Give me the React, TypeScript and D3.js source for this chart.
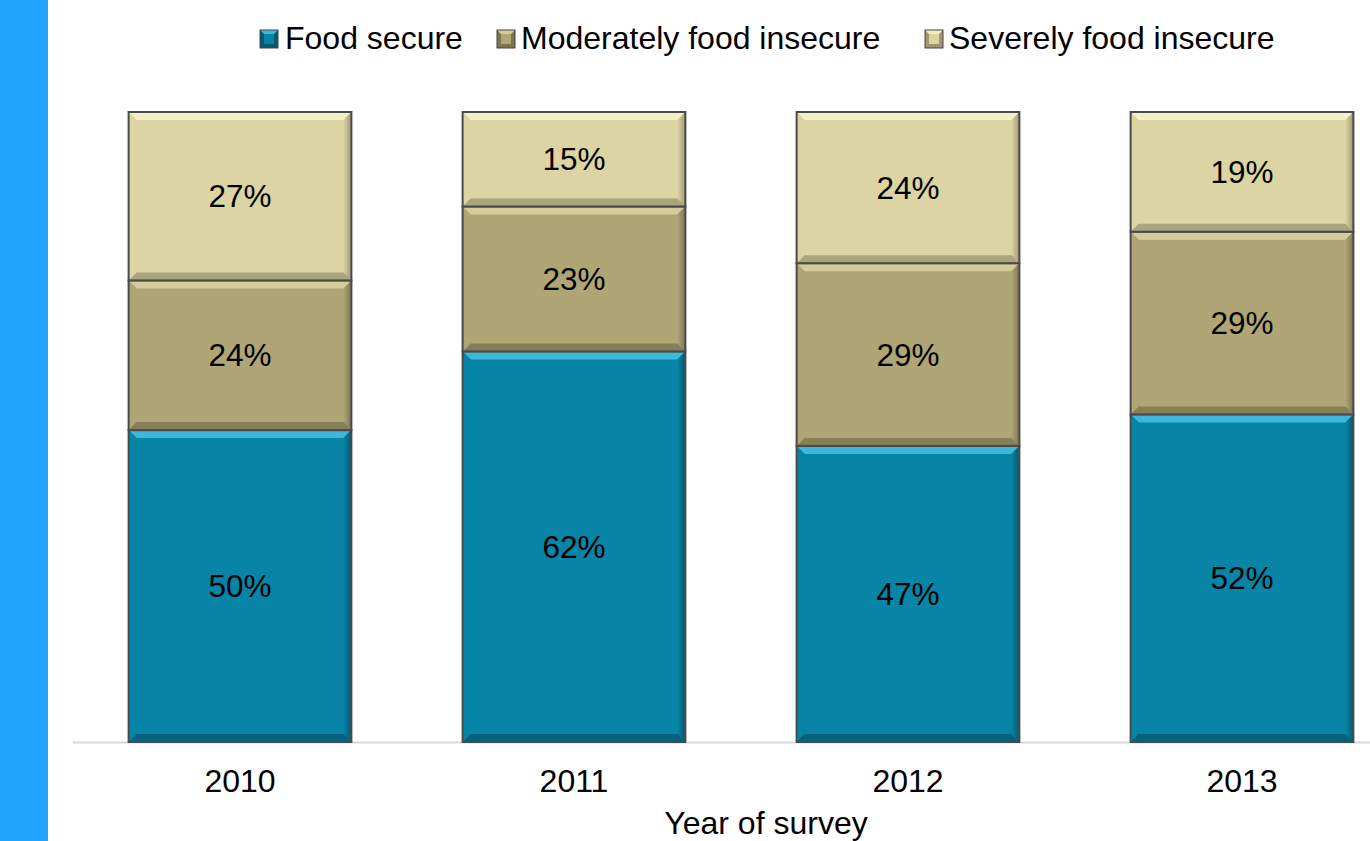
import React from "react";
import * as d3 from "d3";

const years = ["2010", "2011", "2012", "2013"];
const seriesNames = ["Food secure", "Moderately food insecure", "Severely food insecure"];
const foodSecure = [50, 62, 47, 52];
const moderately = [24, 23, 29, 29];
const severely = [27, 15, 24, 19];
const axisTitle = "Year of survey";

const W = 1370;
const H = 841;
const FONT = "'Liberation Sans', Arial, sans-serif";

const baseColors = ["#0784A6", "#B0A675", "#DCD4A3"];
const lightColors = ["#3BB8DA", "#D6CC9A", "#F5EFC6"];
const darkColors = ["#045A72", "#7D7550", "#9F9873"];

export default function App() {
  const rows = years.map((y, i) => ({
    year: y,
    s0: foodSecure[i],
    s1: moderately[i],
    s2: severely[i],
  }));
  const stack = d3.stack<any>().keys(["s0", "s1", "s2"]).offset(d3.stackOffsetExpand);
  const stacked = stack(rows);

  const x = d3.scaleBand().domain(years).range([73, 1409]).paddingInner(0.333).paddingOuter(0.1665);
  const y = d3.scaleLinear().domain([0, 1]).range([742, 112]);
  const bw = x.bandwidth();
  const bev = 8;

  const legendItems = [
    { mx: 260, tx: 285 },
    { mx: 497, tx: 521 },
    { mx: 925, tx: 949 },
  ];

  return (
    <div style={{ position: "absolute", left: 0, top: 0 }}>
      <svg width={W} height={H} style={{ display: "block" }}>
        <defs>
          {baseColors.map((c, i) => (
            <linearGradient key={i} id={`rg${i}`} x1="0" x2="1" y1="0" y2="0">
              <stop offset="0" stopColor={baseColors[i]} />
              <stop offset="1" stopColor={darkColors[i]} />
            </linearGradient>
          ))}
        </defs>
        <rect x={0} y={0} width={W} height={H} fill="#ffffff" />
        <rect x={0} y={0} width={48} height={H} fill="#1FA5FC" />
        {/* legend */}
        {seriesNames.map((name, i) => (
          <g key={name}>
            <rect x={legendItems[i].mx} y={30} width={18} height={18} fill={darkColors[i]} />
            <polygon
              points={`${legendItems[i].mx},30 ${legendItems[i].mx + 18},30 ${legendItems[i].mx + 14},34 ${legendItems[i].mx + 4},34`}
              fill={lightColors[i]}
            />
            <rect x={legendItems[i].mx + 4} y={34} width={10} height={10} fill={baseColors[i]} />
            <rect x={legendItems[i].mx} y={30} width={18} height={18} fill="none" stroke="#444" strokeWidth={1} />
            <text x={legendItems[i].tx} y={49} fontFamily={FONT} fontSize={32} fill="#000">
              {name}
            </text>
          </g>
        ))}
        {/* axis line */}
        <line x1={73} x2={W} y1={742.5} y2={742.5} stroke="#D9D9D9" strokeWidth={2} />
        {/* bars */}
        {stacked.map((layer, si) =>
          layer.map((d, i) => {
            const x0 = x(years[i])!;
            const top = y(d[1]);
            const bot = y(d[0]);
            const h = bot - top;
            const raw = [foodSecure, moderately, severely][si][i];
            return (
              <g key={`${si}-${i}`}>
                <rect x={x0} y={top} width={bw} height={h} fill={baseColors[si]} />
                {/* top bevel */}
                <polygon
                  points={`${x0},${top} ${x0 + bw},${top} ${x0 + bw - bev},${top + bev} ${x0 + bev},${top + bev}`}
                  fill={lightColors[si]}
                />
                {/* left bevel */}
                <polygon
                  points={`${x0},${top} ${x0 + bev},${top + bev} ${x0 + bev},${bot - bev} ${x0},${bot}`}
                  fill={baseColors[si]}
                  opacity={0.9}
                />
                {/* right bevel */}
                <polygon
                  points={`${x0 + bw},${top} ${x0 + bw},${bot} ${x0 + bw - bev},${bot - bev} ${x0 + bw - bev},${top + bev}`}
                  fill={`url(#rg${si})`}
                />
                {/* bottom bevel */}
                <polygon
                  points={`${x0},${bot} ${x0 + bw},${bot} ${x0 + bw - bev},${bot - bev} ${x0 + bev},${bot - bev}`}
                  fill={darkColors[si]}
                  opacity={0.8}
                />
                <rect x={x0} y={top} width={bw} height={h} fill="none" stroke="#4A4A4A" strokeWidth={2} />
                <text
                  x={x0 + bw / 2}
                  y={(top + bot) / 2 + 11}
                  textAnchor="middle"
                  fontFamily={FONT}
                  fontSize={31.5}
                  fill="#000"
                >
                  {raw}%
                </text>
              </g>
            );
          })
        )}
        {/* year labels */}
        {years.map((yr) => (
          <text
            key={yr}
            x={x(yr)! + bw / 2}
            y={792}
            textAnchor="middle"
            fontFamily={FONT}
            fontSize={32}
            fill="#000"
          >
            {yr}
          </text>
        ))}
        <text x={766} y={834} textAnchor="middle" fontFamily={FONT} fontSize={32} fill="#000">
          {axisTitle}
        </text>
      </svg>
    </div>
  );
}
